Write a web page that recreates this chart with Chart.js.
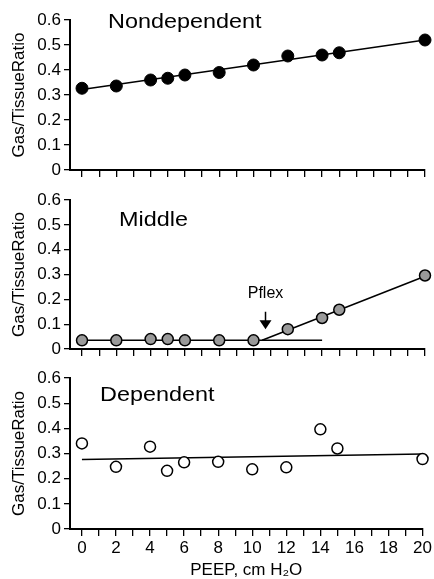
<!DOCTYPE html>
<html>
<head>
<meta charset="utf-8">
<script src="https://cdn.jsdelivr.net/npm/chart.js@4.4.0/dist/chart.umd.min.js"></script>
<style>
html, body { margin: 0; padding: 0; background: #fff; }
#wrap { position: relative; width: 434px; height: 579px; }
canvas { position: absolute; left: 0; }
</style>
</head>
<body>
<div id="wrap">
    <canvas id="c1" width="434" height="185" style="top:0px"></canvas>
    <canvas id="c2" width="434" height="179" style="top:185px"></canvas>
    <canvas id="c3" width="434" height="215" style="top:364px"></canvas>
</div>
<script>
// PEEP levels (cm H2O) and gas/tissue ratios
const peep = [0, 2, 4, 5, 6, 8, 10, 12, 14, 15, 20];
const nondependent = [0.327, 0.336, 0.36, 0.367, 0.38, 0.39, 0.42, 0.456, 0.46, 0.469, 0.52];
const middle = [0.035, 0.035, 0.04, 0.04, 0.035, 0.035, 0.035, 0.08, 0.125, 0.158, 0.296];
const dependent = [0.34, 0.247, 0.327, 0.231, 0.265, 0.267, 0.237, 0.245, 0.396, 0.32, 0.278];

// fitted lines (end points)
const nondepFitX = [0, 20];
const nondepFitY = [0.322, 0.52];
const middleFlatX = [0, 14];
const middleFlatY = [0.035, 0.035];
const middleRiseX = [10.5, 20];
const middleRiseY = [0.035, 0.293];
const depFitX = [0, 20];
const depFitY = [0.276, 0.298];

// Pflex marker
const pflexPeep = 10.7;

const xTicks = [0, 1, 2, 3, 4, 5, 6, 7, 8, 9, 10, 11, 12, 13, 14, 15, 16, 17, 18, 19, 20];
const yTicks = [0, 0.1, 0.2, 0.3, 0.4, 0.5, 0.6];

const FONT = "'Liberation Sans', Arial, Helvetica, sans-serif";
Chart.defaults.font.family = FONT;
Chart.defaults.color = '#000';

const toPts = (xs, ys) => xs.map((x, i) => ({ x: x, y: ys[i] }));

function fitLine(xs, ys) {
    return {
        data: toPts(xs, ys),
        showLine: true,
        borderColor: '#000',
        borderWidth: 1.5,
        pointRadius: 0,
        order: 2,
        clip: false
    };
}

// panel name and the Pflex arrow
const labelPlugin = {
    id: 'labels',
    afterDraw(chart) {
        const o = chart.options.plugins.labels;
        const ctx = chart.ctx;
        ctx.save();
        ctx.fillStyle = '#000';
        ctx.textBaseline = 'alphabetic';
        ctx.font = `20px ${FONT}`;
        ctx.translate(o.x, o.y);
        ctx.scale(1.17, 1);
        ctx.fillText(o.text, 0, 0);
        ctx.restore();

        if (o.pflex) {
            const xs = chart.scales.x, ys = chart.scales.y;
            const px = xs.getPixelForValue(pflexPeep);
            const top = ys.getPixelForValue(0.15);
            const tip = ys.getPixelForValue(0.08);
            ctx.save();
            ctx.fillStyle = '#000';
            ctx.strokeStyle = '#000';
            ctx.font = `16px ${FONT}`;
            ctx.textAlign = 'center';
            ctx.fillText('Pflex', px, ys.getPixelForValue(0.204));
            ctx.lineWidth = 1.5;
            ctx.beginPath();
            ctx.moveTo(px, top);
            ctx.lineTo(px, tip - 6);
            ctx.stroke();
            ctx.beginPath();
            ctx.moveTo(px - 6, tip - 9);
            ctx.lineTo(px + 6, tip - 9);
            ctx.lineTo(px, tip);
            ctx.closePath();
            ctx.fill();
            ctx.restore();
        }
    }
};

function makePanel(id, opts) {
    const datasets = opts.fits.map(f => fitLine(f[0], f[1]));
    datasets.push({
        data: toPts(peep, opts.values),
        pointRadius: opts.radius,
        pointBackgroundColor: opts.fill,
        pointBorderColor: '#000',
        pointBorderWidth: opts.border,
        showLine: false,
        order: 1,
        clip: false
    });

    return new Chart(document.getElementById(id), {
        type: 'scatter',
        data: { datasets: datasets },
        options: {
            responsive: false,
            animation: false,
            layout: { padding: { top: opts.padTop, right: 9, left: 0, bottom: 0 } },
            plugins: {
                legend: { display: false },
                tooltip: { enabled: false },
                labels: { text: opts.name, x: opts.nameX, y: opts.nameY, pflex: opts.pflex }
            },
            scales: {
                x: {
                    type: 'linear',
                    min: -0.7,
                    max: 20,
                    afterBuildTicks: s => { s.ticks = xTicks.map(v => ({ value: v })); },
                    afterFit: s => { s.height = opts.xHeight; },
                    grid: { display: true, drawOnChartArea: false, drawTicks: true, tickLength: 7, color: '#000', lineWidth: 1.3 },
                    border: { display: true, color: '#000', width: 2 },
                    ticks: {
                        autoSkip: false,
                        maxRotation: 0,
                        padding: 2,
                        font: { size: 17 },
                        callback: v => (opts.bottom && v % 2 === 0) ? String(v) : ''
                    },
                    title: {
                        display: !!opts.bottom,
                        text: 'PEEP, cm H\u2082O',
                        font: { size: 17, lineHeight: 1 },
                        padding: { top: 0, bottom: 0 }
                    }
                },
                y: {
                    min: 0,
                    max: 0.6,
                    afterBuildTicks: s => { s.ticks = yTicks.map(v => ({ value: v })); },
                    afterFit: s => { s.width = 70; },
                    grid: { display: true, drawOnChartArea: false, drawTicks: true, tickLength: 6, color: '#000', lineWidth: 1.3 },
                    border: { display: true, color: '#000', width: 2 },
                    ticks: {
                        padding: 3,
                        font: { size: 17 },
                        callback: v => v === 0 ? '0' : v.toFixed(1)
                    },
                    title: {
                        display: true,
                        text: 'Gas/TissueRatio',
                        font: { size: 17, lineHeight: 1 },
                        padding: { top: 11, bottom: 0 }
                    }
                }
            }
        },
        plugins: [labelPlugin]
    });
}

makePanel('c1', {
    name: 'Nondependent', nameX: 108, nameY: 28,
    values: nondependent,
    fits: [[nondepFitX, nondepFitY]],
    radius: 6, fill: '#000', border: 1,
    padTop: 20, xHeight: 15
});

makePanel('c2', {
    name: 'Middle', nameX: 119, nameY: 41,
    values: middle,
    fits: [[middleFlatX, middleFlatY], [middleRiseX, middleRiseY]],
    radius: 5.5, fill: '#9a9a9a', border: 1.5,
    padTop: 15, xHeight: 15, pflex: true
});

makePanel('c3', {
    name: 'Dependent', nameX: 100, nameY: 37,
    values: dependent,
    fits: [[depFitX, depFitY]],
    radius: 5.5, fill: '#fff', border: 1.5,
    padTop: 14, xHeight: 50, bottom: true
});
</script>
</body>
</html>
